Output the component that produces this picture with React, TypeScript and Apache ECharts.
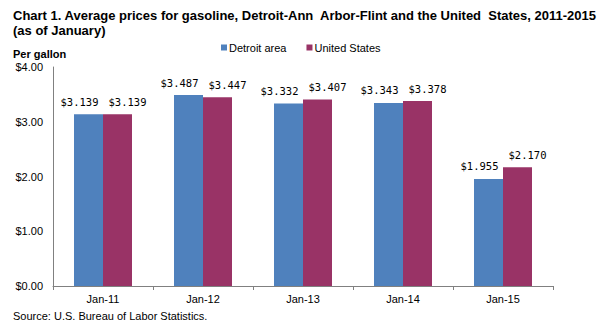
import React, { useEffect, useRef } from "react";
import * as echarts from "echarts";

const categories = ["Jan-11", "Jan-12", "Jan-13", "Jan-14", "Jan-15"];
const detroit = [3.139, 3.487, 3.332, 3.343, 1.955];
const unitedStates = [3.139, 3.447, 3.407, 3.378, 2.17];
const yTicks = [0, 1, 2, 3, 4];

const FONT = "'Liberation Sans', Arial, sans-serif";
const MONO = "'DejaVu Sans Mono', 'Liberation Mono', monospace";

export default function App() {
  const ref = useRef<HTMLDivElement>(null);
  useEffect(() => {
    const chart = echarts.init(ref.current!, null, { renderer: "svg" });
    const makeLabel = (dx: number) => ({
      show: true,
      position: "top",
      distance: 7,
      offset: [dx, 0],
      color: "#000",
      fontFamily: MONO,
      fontSize: 10.5,
      formatter: (p: any) => "$" + p.value.toFixed(3),
    });
    chart.setOption({
      animation: false,
      backgroundColor: "#fff",
      title: [
        {
          text: "Chart 1. Average prices for gasoline, Detroit-Ann  Arbor-Flint and the United  States, 2011-2015\n(as of January)",
          left: 8,
          top: 3,
          textStyle: { fontFamily: FONT, fontWeight: "bold", fontSize: 13, color: "#000", lineHeight: 15 },
        },
        {
          text: "Per gallon",
          left: 8,
          top: 43,
          textStyle: { fontFamily: FONT, fontWeight: "bold", fontSize: 11, color: "#000" },
        },
        {
          text: "Source: U.S. Bureau of Labor Statistics.",
          left: 8,
          top: 305,
          textStyle: { fontFamily: FONT, fontWeight: "normal", fontSize: 11, color: "#000" },
        },
      ],
      legend: {
        left: 216,
        top: 37,
        itemWidth: 6,
        itemHeight: 6,
        itemGap: 20,
        icon: "rect",
        textStyle: { fontFamily: FONT, fontSize: 11, color: "#000", padding: [0, 0, 0, -3] },
        data: ["Detroit area", "United States"],
      },
      grid: { left: 53, right: 59, top: 67, bottom: 37 },
      xAxis: {
        type: "category",
        data: categories,
        axisLine: { lineStyle: { color: "#808080" } },
        axisTick: { show: true, length: 4, lineStyle: { color: "#808080" } },
        axisLabel: { fontFamily: FONT, fontSize: 11, color: "#000", margin: 7 },
      },
      yAxis: {
        type: "value",
        min: yTicks[0],
        max: yTicks[yTicks.length - 1],
        interval: 1,
        axisLine: { show: true, lineStyle: { color: "#808080" } },
        axisTick: { show: false },
        splitLine: { show: false },
        axisLabel: {
          fontFamily: FONT,
          fontSize: 11,
          color: "#000",
          margin: 10,
          formatter: (v: number) => "$" + v.toFixed(2),
        },
      },
      series: [
        {
          name: "Detroit area",
          type: "bar",
          data: detroit,
          barWidth: 29,
          barGap: "0%",
          itemStyle: { color: "#4F81BD" },
          label: makeLabel(-9),
        },
        {
          name: "United States",
          type: "bar",
          data: unitedStates,
          barWidth: 29,
          itemStyle: { color: "#993366" },
          label: makeLabel(10),
        },
      ],
    });
    return () => chart.dispose();
  }, []);
  return <div ref={ref} style={{ width: 612, height: 323, position: "absolute", left: 0, top: 0 }} />;
}
